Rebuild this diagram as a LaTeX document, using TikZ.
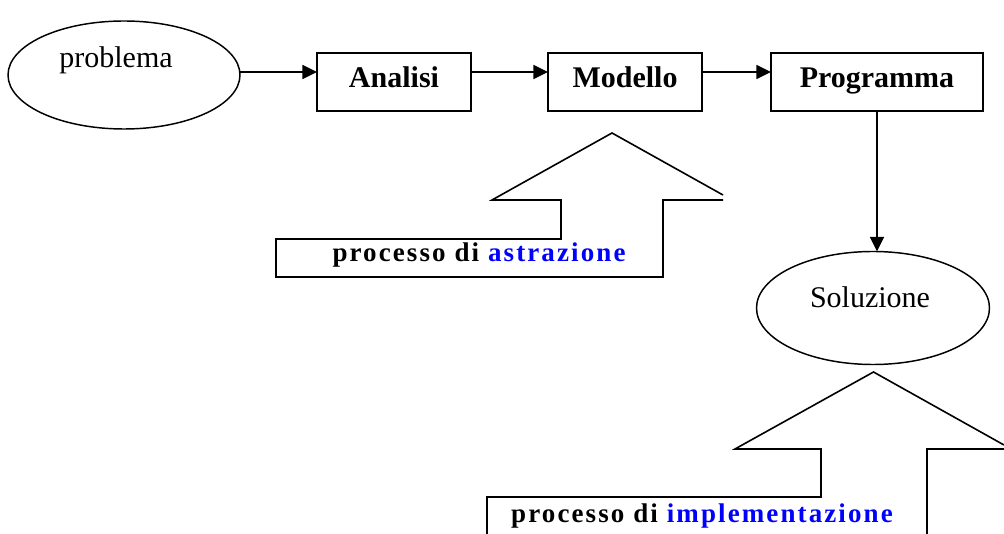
\documentclass[tikz,border=0pt]{standalone}
\usepackage{fontspec}
\setmainfont{Liberation Serif}
\newfontfamily\spacedserif[LetterSpace=7.8]{Liberation Serif}
\usetikzlibrary{shapes.geometric,arrows.meta}
\begin{document}
\begin{tikzpicture}[x=0.75pt,y=-0.75pt,
  every node/.style={inner sep=0pt, outer sep=0pt},
  stagebox/.style={draw, line width=1.2pt, minimum height=43.5pt,
    text height=0.9em, text depth=0em,
    font=\fontsize{22.5}{27}\selectfont\bfseries},
  endpoint/.style={draw, ellipse, line width=1.1pt},
  plainlabel/.style={anchor=base, font=\fontsize{22.5}{27}\selectfont},
  proclabel/.style={anchor=base, font=\spacedserif\fontsize{20.25}{24}\selectfont\bfseries},
  link/.style={line width=1.2pt, -{Triangle[length=11pt,width=10.5pt]}},
  blockarrow/.style={line width=1.2pt, line join=miter}
]
\useasboundingbox (0,0) rectangle (1004,534);

% start and end ellipses
\node[endpoint, minimum width=174pt, minimum height=81pt] (prob) at (124,75) {};
\node[plainlabel] (probtxt) at (116,68) {problema};
\node[endpoint, minimum width=174.75pt, minimum height=84.75pt] (sol) at (873,308) {};
\node[plainlabel] (soltxt) at (870,308) {Soluzione};

% stages
\node[stagebox, minimum width=115.5pt] (ana) at (394,82) {Analisi};
\node[stagebox, minimum width=115.5pt] (mod) at (625,82) {Modello};
\node[stagebox, minimum width=159pt] (prog) at (877,82) {Programma};

% connectors
\coordinate (anaIn) at ([yshift=7.5pt]ana.west);
\draw[link] (prob.east |- anaIn) -- (anaIn);
\draw[link] ([yshift=7.5pt]ana.east) -- ([yshift=7.5pt]mod.west);
\draw[link] ([yshift=7.5pt]mod.east) -- ([yshift=7.5pt]prog.west);
\draw[link] (prog.south) -- (prog.south |- sol.north);

% block arrow: abstraction
\draw[blockarrow] (723,195) -- (612,133) -- (492,200) -- (561,200) -- (561,239)
  -- (276,239) -- (276,277) -- (663,277) -- (663,200) -- (723,200);
\node[proclabel] (absttxt) at (479,262) {processo di \textcolor{blue}{astrazione}};

% block arrow: implementation
\draw[blockarrow] (1004,445) -- (873.5,372) -- (735,449) -- (821,449) -- (821,497)
  -- (487,497) -- (487,534);
\draw[blockarrow] (927,534) -- (927,449) -- (1004,449);
\node[proclabel] (impltxt) at (702,523) {processo di \textcolor{blue}{implementazione}};
\end{tikzpicture}
\end{document}
